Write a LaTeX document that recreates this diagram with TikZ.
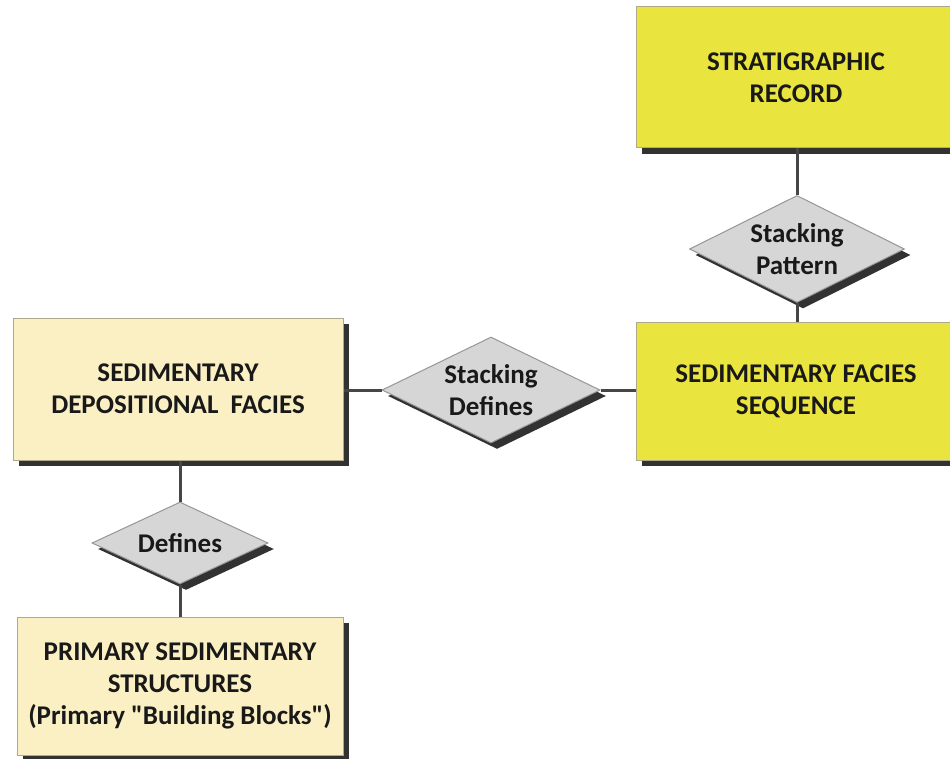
\documentclass[tikz,border=0pt]{standalone}
\usepackage{fontspec}
\setmainfont{Carlito}[Ligatures=TeXOff]
\usetikzlibrary{shapes.geometric,shadows}
\definecolor{ybox}{RGB}{234,228,62}
\definecolor{bbox}{RGB}{250,240,196}
\definecolor{dfill}{RGB}{214,214,214}
\definecolor{dline}{RGB}{150,150,150}
\definecolor{bline}{RGB}{175,168,140}
\definecolor{cline}{RGB}{70,70,70}
\definecolor{shade}{RGB}{40,40,40}
\tikzset{
  lbl/.style={font=\fontsize{27}{32}\selectfont\bfseries, text=black!90, align=center},
  shd/.style={drop shadow={shadow xshift=6pt, shadow yshift=-6pt, fill=shade, opacity=0.95}},
  ybx/.style={lbl, shd, rectangle, draw=bline, line width=1pt, fill=ybox, inner sep=0pt},
  bbx/.style={lbl, shd, rectangle, draw=bline, line width=1pt, fill=bbox, inner sep=0pt},
  dmd/.style={lbl, shd, diamond, shape aspect=2, draw=dline, line width=1pt, fill=dfill, inner sep=0pt},
  conn/.style={draw=cline, line width=3pt}
}
\begin{document}
\begin{tikzpicture}[x=1pt,y=-1pt]
\useasboundingbox (0,0) rectangle (950,759);
\clip (0,0) rectangle (950,759);
\fill[white] (0,0) rectangle (950,759);
% boxes
\node[ybx, minimum width=320pt, minimum height=141pt] (rec) at (796,77.5) {STRATIGRAPHIC\\RECORD};
\node[ybx, minimum width=320pt, minimum height=138pt] (seq) at (796,391) {SEDIMENTARY FACIES\\SEQUENCE};
\node[bbx, minimum width=330pt, minimum height=142pt] (dep) at (178,389) {SEDIMENTARY\\DEPOSITIONAL~~FACIES};
\node[bbx, minimum width=326pt, minimum height=138pt] (prim) at (180,686) {PRIMARY SEDIMENTARY\\STRUCTURES\\(Primary "Building Blocks")};
% diamonds
\node[dmd, minimum width=215pt, minimum height=107pt] (pat) at (797,249) {Stacking\\Pattern};
\node[dmd, minimum width=218pt, minimum height=106pt] (sdef) at (491,390) {Stacking\\Defines};
\node[dmd, minimum width=176pt, minimum height=82pt] (def) at (180,543) {Defines};
% connectors
\draw[conn] (pat.north |- rec.south) -- (pat.north);
\draw[conn] (pat.south) -- (pat.south |- seq.north);
\draw[conn] (dep.east |- sdef.west) -- (sdef.west);
\draw[conn] (sdef.east) -- (seq.west |- sdef.east);
\draw[conn] (def.north |- dep.south) -- (def.north);
\draw[conn] (def.south) -- (def.south |- prim.north);
\end{tikzpicture}
\end{document}
